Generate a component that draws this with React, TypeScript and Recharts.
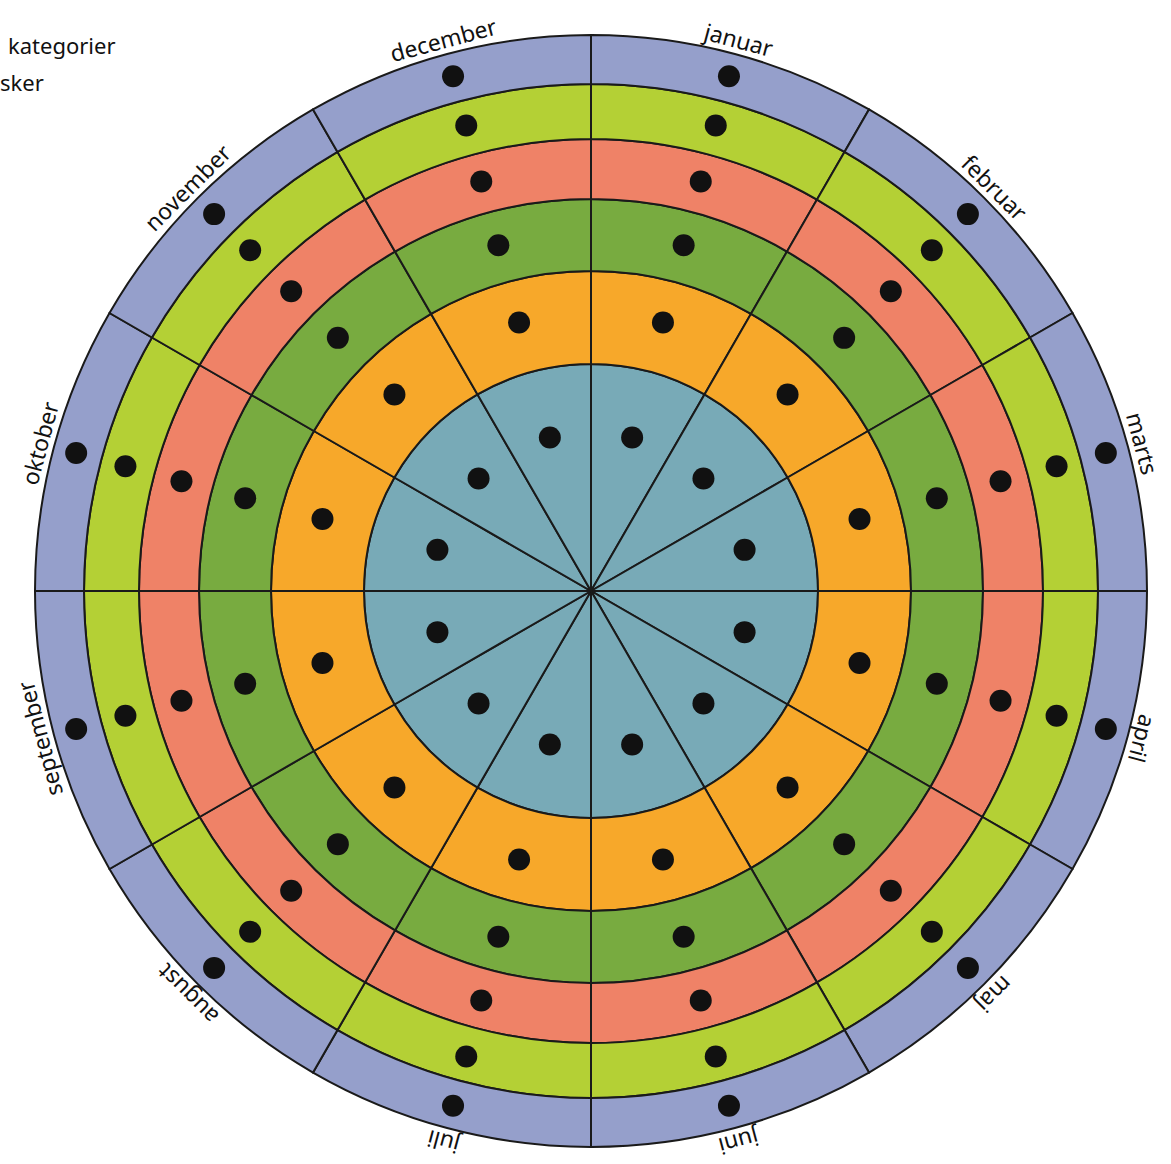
import { PieChart, Pie, Cell } from 'recharts'

const months = ['januar', 'februar', 'marts', 'april', 'maj', 'juni', 'juli', 'august', 'september', 'oktober', 'november', 'december']
const monthShare = [1, 1, 1, 1, 1, 1, 1, 1, 1, 1, 1, 1]
const ringColors = ['#78AAB7', '#F7A82A', '#78AB40', '#EF8267', '#B4D035', '#959FCB']
// one dot per month in every ring (1 = dot)
const ringDots = [
  [1, 1, 1, 1, 1, 1, 1, 1, 1, 1, 1, 1],
  [1, 1, 1, 1, 1, 1, 1, 1, 1, 1, 1, 1],
  [1, 1, 1, 1, 1, 1, 1, 1, 1, 1, 1, 1],
  [1, 1, 1, 1, 1, 1, 1, 1, 1, 1, 1, 1],
  [1, 1, 1, 1, 1, 1, 1, 1, 1, 1, 1, 1],
  [1, 1, 1, 1, 1, 1, 1, 1, 1, 1, 1, 1],
]
const notes = ['kategorier', 'sker']

const CX = 591
const CY = 591
const INNER = [0, 227, 320, 392, 452, 507]
const OUTER = [227, 320, 392, 452, 507, 556]
const DOT_R = [159, 278, 358, 424, 482, 533]
const RAD = Math.PI / 180
const LINE = '#1a1a1a'
const FONT = '"Noto Sans", "DejaVu Sans", sans-serif'

const sliceData = months.map((m, i) => ({ name: m, value: monthShare[i] }))

const dotLabel = (ring: number) => (p: any) => {
  if (!ringDots[ring][p.index]) return null
  const r = DOT_R[ring]
  const x = p.cx + r * Math.cos(-p.midAngle * RAD)
  const y = p.cy + r * Math.sin(-p.midAngle * RAD)
  return <circle key={`d${ring}-${p.index}`} cx={x} cy={y} r={11} fill="#111" />
}

const monthLabel = (p: any) => {
  const r = 571
  const x = p.cx + r * Math.cos(-p.midAngle * RAD)
  const y = p.cy + r * Math.sin(-p.midAngle * RAD)
  const rot = 90 - p.midAngle
  return (
    <text key={`m${p.index}`} x={x} y={y} textAnchor="middle" dominantBaseline="central"
      transform={`rotate(${rot}, ${x}, ${y})`} fontFamily={FONT} fontSize={23} fill="#111">
      {months[p.index]}
    </text>
  )
}

export default function App() {
  return (
    <div style={{ position: 'absolute', left: 0, top: 0, width: 1171, height: 1164, background: '#fff' }}>
      <PieChart width={1171} height={1164} margin={{ top: 0, right: 0, bottom: 0, left: 0 }}>
        {ringColors.map((color, ring) => (
          <Pie key={ring} data={sliceData} dataKey="value" nameKey="name" cx={CX} cy={CY}
            innerRadius={INNER[ring]} outerRadius={OUTER[ring]} startAngle={90} endAngle={-270}
            stroke={LINE} strokeWidth={2} label={dotLabel(ring)} labelLine={false} isAnimationActive={false}>
            {sliceData.map((_, i) => <Cell key={i} fill={color} />)}
          </Pie>
        ))}
        <Pie data={sliceData} dataKey="value" cx={CX} cy={CY} innerRadius={556} outerRadius={557}
          startAngle={90} endAngle={-270} fill="none" stroke="none" label={monthLabel} labelLine={false}
          isAnimationActive={false} />
      </PieChart>
      <svg width={200} height={110} style={{ position: 'absolute', left: 0, top: 0 }}>
        <text x={8} y={54} fontFamily={FONT} fontSize={22} fill="#111">{notes[0]}</text>
        <text x={0} y={91} fontFamily={FONT} fontSize={22} fill="#111">{notes[1]}</text>
      </svg>
    </div>
  )
}
